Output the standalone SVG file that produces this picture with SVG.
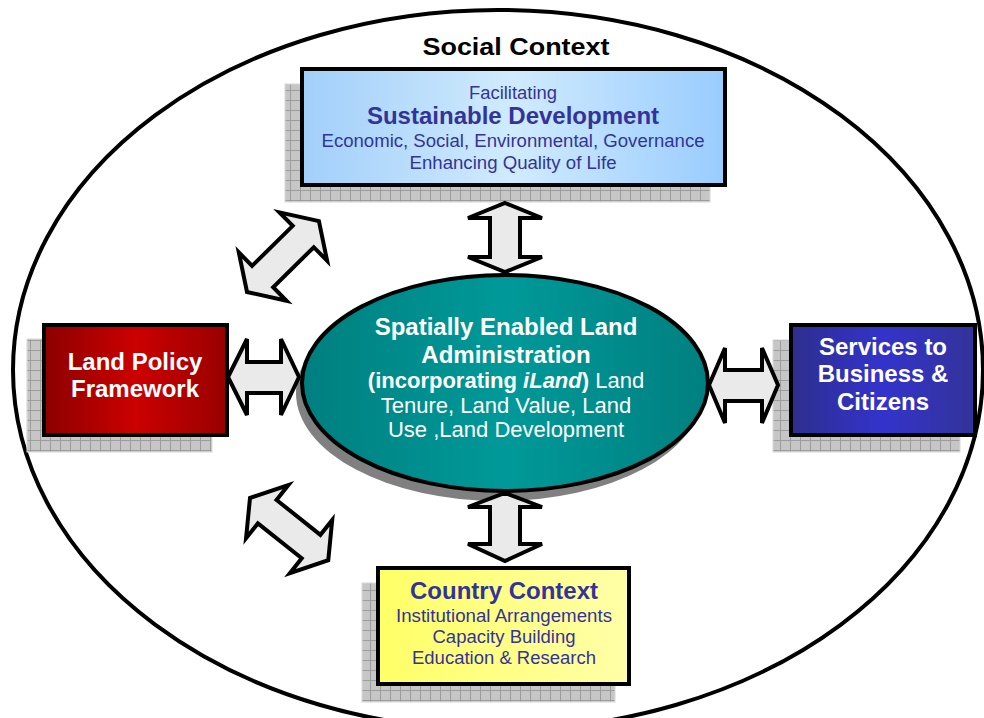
<svg xmlns="http://www.w3.org/2000/svg" width="984" height="718" viewBox="0 0 984 718">
<defs>
<pattern id="grid" width="10" height="10" patternUnits="userSpaceOnUse">
<rect width="10" height="10" fill="#c6c6c6"/>
<path d="M0,0.5 H10 M0.5,0 V10" stroke="#9c9c9c" stroke-width="1"/>
</pattern>
<linearGradient id="gBlueL" x1="0" y1="0" x2="1" y2="0">
<stop offset="0" stop-color="#a2cffa"/><stop offset="0.5" stop-color="#d0ebfd"/><stop offset="1" stop-color="#99ccff"/>
</linearGradient>
<linearGradient id="gRed" x1="0" y1="0" x2="1" y2="0">
<stop offset="0" stop-color="#8c0000"/><stop offset="0.5" stop-color="#cc0000"/><stop offset="1" stop-color="#990000"/>
</linearGradient>
<linearGradient id="gBlue" x1="0" y1="0" x2="1" y2="0">
<stop offset="0" stop-color="#2e2e8e"/><stop offset="0.5" stop-color="#3333cc"/><stop offset="1" stop-color="#333399"/>
</linearGradient>
<linearGradient id="gYel" x1="0" y1="0" x2="1" y2="0">
<stop offset="0" stop-color="#ffff66"/><stop offset="1" stop-color="#ffffa8"/>
</linearGradient>
<linearGradient id="gTeal" x1="0" y1="0" x2="1" y2="0">
<stop offset="0" stop-color="#007f7f"/><stop offset="0.5" stop-color="#009999"/><stop offset="1" stop-color="#008080"/>
</linearGradient>
</defs>
<style>
.shadow{fill:url(#grid);stroke:#d8d8d8;stroke-width:1}
.box{stroke:#000;stroke-width:4}
.arrow{fill:#eaeaea;stroke:#000;stroke-width:4;stroke-linejoin:miter}
.t{font-family:"Liberation Sans",Arial,sans-serif;text-anchor:middle}
.b{font-weight:bold}
.dk{fill:#333399}
.wh{fill:#ffffff}
</style>
<rect width="984" height="718" fill="#ffffff"/>
<g id="social-context">
<ellipse cx="498" cy="370" rx="485" ry="360" fill="none" stroke="#000" stroke-width="4"/>
<text class="t b" x="516" y="55" font-size="24" textLength="187" lengthAdjust="spacingAndGlyphs" fill="#000">Social Context</text>
</g>
<g id="sustainable-development">
<rect class="shadow" x="285" y="84" width="425" height="118"/>
<rect class="box" x="302" y="69" width="423" height="116" fill="url(#gBlueL)"/>
<text class="t dk" x="513" y="99" font-size="17.5" textLength="88" lengthAdjust="spacingAndGlyphs">Facilitating</text>
<text class="t b dk" x="513" y="124" font-size="24">Sustainable Development</text>
<text class="t dk" x="513" y="147" font-size="17.5" textLength="383" lengthAdjust="spacingAndGlyphs">Economic, Social, Environmental, Governance</text>
<text class="t dk" x="513" y="169" font-size="17.5" textLength="207" lengthAdjust="spacingAndGlyphs">Enhancing Quality of Life</text>
</g>
<g id="land-policy">
<rect class="shadow" x="27" y="339" width="185" height="113"/>
<rect class="box" x="44" y="325" width="183" height="110" fill="url(#gRed)"/>
<text class="t b wh" x="135" y="370" font-size="24">Land Policy</text>
<text class="t b wh" x="135" y="397" font-size="24">Framework</text>
</g>
<g id="services">
<rect class="shadow" x="773" y="340" width="187" height="112"/>
<rect class="box" x="791" y="325" width="184" height="110" fill="url(#gBlue)"/>
<text class="t b wh" x="883" y="355" font-size="24">Services to</text>
<text class="t b wh" x="883" y="382" font-size="24">Business &amp;</text>
<text class="t b wh" x="883" y="410" font-size="24">Citizens</text>
</g>
<g id="country-context">
<rect class="shadow" x="362" y="583" width="253" height="119"/>
<rect class="box" x="378" y="568" width="251" height="116" fill="url(#gYel)"/>
<text class="t b dk" x="504" y="599" font-size="24">Country Context</text>
<text class="t dk" x="504" y="622" font-size="17.5" textLength="216" lengthAdjust="spacingAndGlyphs">Institutional Arrangements</text>
<text class="t dk" x="504" y="643" font-size="17.5" textLength="143" lengthAdjust="spacingAndGlyphs">Capacity Building</text>
<text class="t dk" x="504" y="664" font-size="17.5" textLength="184" lengthAdjust="spacingAndGlyphs">Education &amp; Research</text>
</g>
<g id="spatially-enabled">
<ellipse cx="499" cy="393" rx="203" ry="108" fill="#808080"/>
<ellipse cx="505" cy="383" rx="203" ry="108" fill="url(#gTeal)" stroke="#000" stroke-width="4"/>
<text class="t b wh" x="506" y="335" font-size="24">Spatially Enabled Land</text>
<text class="t b wh" x="506" y="363" font-size="24">Administration</text>
<text class="t wh" x="506" y="388" font-size="22"><tspan font-weight="bold">(incorporating <tspan font-style="italic">iLand</tspan>)</tspan> Land</text>
<text class="t wh" x="506" y="413" font-size="22">Tenure, Land Value, Land</text>
<text class="t wh" x="506" y="437" font-size="22">Use ,Land Development</text>
</g>
<g id="connectors">
<path class="arrow" d="M505,203 L542,218 L520,218 L520,257 L542,257 L505,272 L468,257 L490,257 L490,218 L468,218 Z"/>
<path class="arrow" d="M505,493 L542,507 L520,507 L520,544 L542,544 L505,561 L468,544 L490,544 L490,507 L468,507 Z"/>
<path class="arrow" d="M228,377 L247,339 L247,362 L281,362 L281,339 L299,377 L281,415 L281,393 L247,393 L247,415 Z"/>
<path class="arrow" d="M709,385 L725,348 L725,370 L762,370 L762,348 L778,385 L762,423 L762,401 L725,401 L725,423 Z"/>
<path class="arrow" transform="translate(247,292) rotate(-44.6)" d="M0,0 L22,-34 L22,-15 L79,-15 L79,-34 L101,0 L79,34 L79,15 L22,15 L22,34 Z"/>
<path class="arrow" transform="translate(250,498) rotate(38.5)" d="M0,0 L22,-34 L22,-15 L78,-15 L78,-34 L100,0 L78,34 L78,15 L22,15 L22,34 Z"/>
</g>
</svg>
